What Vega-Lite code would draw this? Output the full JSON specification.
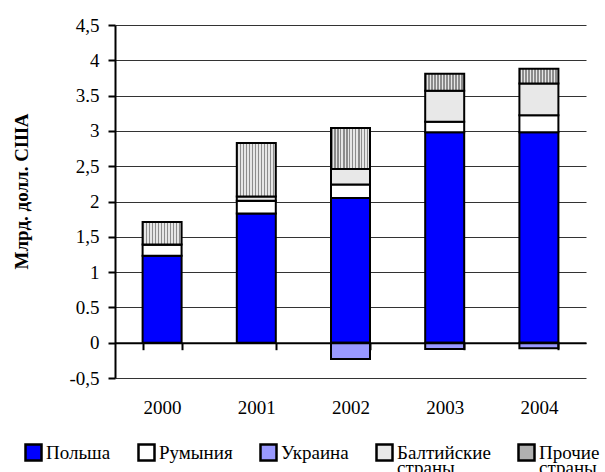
{
  "$schema": "https://vega.github.io/schema/vega-lite/v6.json",
  "width": 471,
  "height": 353,
  "autosize": {"type": "none"},
  "padding": {"left": 115, "top": 25, "right": 19, "bottom": 94},
  "background": "white",
  "data": {
    "values": [
      {"year": "2000", "c": "Польша", "v": 1.23},
      {"year": "2000", "c": "Румыния", "v": 0.16},
      {"year": "2000", "c": "Украина", "v": 0},
      {"year": "2000", "c": "Балтийские страны", "v": 0},
      {"year": "2000", "c": "Прочие страны", "v": 0.32},
      {"year": "2001", "c": "Польша", "v": 1.83},
      {"year": "2001", "c": "Румыния", "v": 0.18},
      {"year": "2001", "c": "Украина", "v": 0},
      {"year": "2001", "c": "Балтийские страны", "v": 0.06},
      {"year": "2001", "c": "Прочие страны", "v": 0.76},
      {"year": "2002", "c": "Польша", "v": 2.05},
      {"year": "2002", "c": "Румыния", "v": 0.19},
      {"year": "2002", "c": "Украина", "v": -0.23},
      {"year": "2002", "c": "Балтийские страны", "v": 0.22},
      {"year": "2002", "c": "Прочие страны", "v": 0.58},
      {"year": "2003", "c": "Польша", "v": 2.98},
      {"year": "2003", "c": "Румыния", "v": 0.15},
      {"year": "2003", "c": "Украина", "v": -0.09},
      {"year": "2003", "c": "Балтийские страны", "v": 0.44},
      {"year": "2003", "c": "Прочие страны", "v": 0.24},
      {"year": "2004", "c": "Польша", "v": 2.98},
      {"year": "2004", "c": "Румыния", "v": 0.24},
      {"year": "2004", "c": "Украина", "v": -0.08},
      {"year": "2004", "c": "Балтийские страны", "v": 0.45},
      {"year": "2004", "c": "Прочие страны", "v": 0.21}
    ]
  },
  "transform": [
    {"calculate": "indexof(['Польша','Румыния','Украина','Балтийские страны','Прочие страны'], datum.c)", "as": "o"}
  ],
  "mark": {"type": "bar", "stroke": "black", "strokeWidth": 2},
  "encoding": {
    "x": {
      "field": "year",
      "type": "ordinal",
      "scale": {"paddingInner": 0.586, "paddingOuter": 0.293},
      "axis": {
        "title": null,
        "orient": "bottom",
        "offset": -35.3,
        "domainColor": "black",
        "domainWidth": 2,
        "tickColor": "black",
        "tickWidth": 2,
        "tickSize": 7,
        "tickBand": "extent",
        "labelPadding": 49,
        "labelFontSize": 19,
        "labelAngle": 0,
        "labelColor": "black",
        "zindex": 1,
        "grid": false
      }
    },
    "y": {
      "field": "v",
      "type": "quantitative",
      "stack": "zero",
      "scale": {"domain": [-0.5, 4.5], "nice": false, "zero": false},
      "axis": {
        "title": "Млрд. долл. США",
        "values": [-0.5, 0, 0.5, 1, 1.5, 2, 2.5, 3, 3.5, 4, 4.5],
        "labelExpr": "(datum.value == 3.5 || datum.value == 0.5) ? ('' + datum.value) : replace('' + datum.value, '.', ',')",
        "grid": true,
        "gridColor": "#333333",
        "gridWidth": 1,
        "domainColor": "black",
        "domainWidth": 2,
        "tickColor": "black",
        "tickWidth": 2,
        "tickSize": 7,
        "labelPadding": 9,
        "labelFontSize": 19,
        "labelColor": "black",
        "titleFontSize": 19,
        "titleFontWeight": "bold",
        "titleColor": "black",
        "titleX": -94,
        "titleY": 166,
        "titleBaseline": "middle",
        "titleAlign": "center",
        "titleAngle": -90
      }
    },
    "fill": {
      "condition": {
        "test": "datum.c === 'Прочие страны'",
        "value": {"gradient": "linear", "x1": 0, "y1": 0, "x2": 1, "y2": 0, "stops": [
          {"offset": 0, "color": "#8c8c8c"}, {"offset": 0.0385, "color": "#8c8c8c"},
          {"offset": 0.0385, "color": "#e6e6e6"}, {"offset": 0.0769, "color": "#e6e6e6"},
          {"offset": 0.0769, "color": "#8c8c8c"}, {"offset": 0.1154, "color": "#8c8c8c"},
          {"offset": 0.1154, "color": "#e6e6e6"}, {"offset": 0.1538, "color": "#e6e6e6"},
          {"offset": 0.1538, "color": "#8c8c8c"}, {"offset": 0.1923, "color": "#8c8c8c"},
          {"offset": 0.1923, "color": "#e6e6e6"}, {"offset": 0.2308, "color": "#e6e6e6"},
          {"offset": 0.2308, "color": "#8c8c8c"}, {"offset": 0.2692, "color": "#8c8c8c"},
          {"offset": 0.2692, "color": "#e6e6e6"}, {"offset": 0.3077, "color": "#e6e6e6"},
          {"offset": 0.3077, "color": "#8c8c8c"}, {"offset": 0.3462, "color": "#8c8c8c"},
          {"offset": 0.3462, "color": "#e6e6e6"}, {"offset": 0.3846, "color": "#e6e6e6"},
          {"offset": 0.3846, "color": "#8c8c8c"}, {"offset": 0.4231, "color": "#8c8c8c"},
          {"offset": 0.4231, "color": "#e6e6e6"}, {"offset": 0.4615, "color": "#e6e6e6"},
          {"offset": 0.4615, "color": "#8c8c8c"}, {"offset": 0.5, "color": "#8c8c8c"},
          {"offset": 0.5, "color": "#e6e6e6"}, {"offset": 0.5385, "color": "#e6e6e6"},
          {"offset": 0.5385, "color": "#8c8c8c"}, {"offset": 0.5769, "color": "#8c8c8c"},
          {"offset": 0.5769, "color": "#e6e6e6"}, {"offset": 0.6154, "color": "#e6e6e6"},
          {"offset": 0.6154, "color": "#8c8c8c"}, {"offset": 0.6538, "color": "#8c8c8c"},
          {"offset": 0.6538, "color": "#e6e6e6"}, {"offset": 0.6923, "color": "#e6e6e6"},
          {"offset": 0.6923, "color": "#8c8c8c"}, {"offset": 0.7308, "color": "#8c8c8c"},
          {"offset": 0.7308, "color": "#e6e6e6"}, {"offset": 0.7692, "color": "#e6e6e6"},
          {"offset": 0.7692, "color": "#8c8c8c"}, {"offset": 0.8077, "color": "#8c8c8c"},
          {"offset": 0.8077, "color": "#e6e6e6"}, {"offset": 0.8462, "color": "#e6e6e6"},
          {"offset": 0.8462, "color": "#8c8c8c"}, {"offset": 0.8846, "color": "#8c8c8c"},
          {"offset": 0.8846, "color": "#e6e6e6"}, {"offset": 0.9231, "color": "#e6e6e6"},
          {"offset": 0.9231, "color": "#8c8c8c"}, {"offset": 0.9615, "color": "#8c8c8c"},
          {"offset": 0.9615, "color": "#e6e6e6"}, {"offset": 1, "color": "#e6e6e6"}
        ]}
      },
      "field": "c",
      "type": "nominal",
      "scale": {
        "domain": ["Польша", "Румыния", "Украина", "Балтийские страны", "Прочие страны"],
        "range": ["#0000ff", "#ffffff", "#9999ff", "#e8e8e8", "#b0b0b0"]
      },
      "legend": {
        "orient": "none",
        "legendX": -91,
        "legendY": 418,
        "direction": "horizontal",
        "columns": 5,
        "title": null,
        "padding": 0,
        "symbolType": "square",
        "symbolSize": 256,
        "symbolStrokeColor": "black",
        "symbolStrokeWidth": 2.5,
        "labelFontSize": 19,
        "labelColor": "black",
        "labelExpr": "split(datum.label, ' ')",
        "columnPadding": 22,
        "labelOffset": 3,
        "labelLimit": 200,
        "gridAlign": "none",
        "encode": {"labels": {"update": {"lineHeight": {"value": 15}}}}
      }
    },
    "order": {"field": "o"}
  },
  "config": {
    "font": "Liberation Serif",
    "view": {"stroke": null}
  }
}
